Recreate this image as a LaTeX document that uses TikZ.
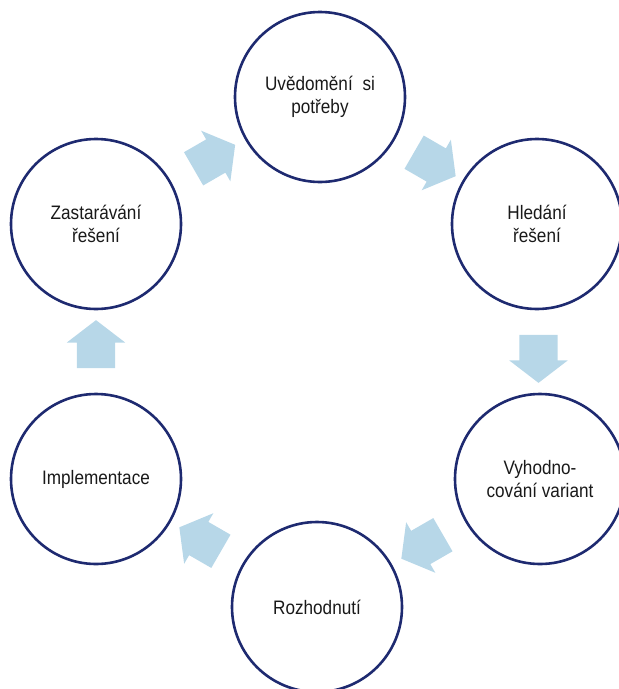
\documentclass[tikz,border=0pt]{standalone}
\usepackage{fontspec}
\setmainfont[FakeStretch=0.88]{Liberation Sans}
\usetikzlibrary{shapes.arrows,calc}

\begin{document}
\begin{tikzpicture}[x=1pt,y=-1pt]
    % ===================================
    % 設定
    % ===================================
    \def\prumer{170}  % 円の直径
    \definecolor{kruhmodra}{RGB}{30,42,112}
    \definecolor{sipkamodra}{RGB}{183,215,232}

    \tikzset{
        kruh/.style={circle, draw=kruhmodra, line width=2.6pt, minimum size=\prumer,
            inner sep=0pt, align=center, text=black!90, font=\fontsize{19.5}{23}\selectfont},
        sipka/.style={single arrow, fill=sipkamodra, draw=none, inner sep=0pt,
            text height=19pt, text depth=19pt, text width=0pt,
            minimum height=48, single arrow head extend=10,
            single arrow tip angle=105}
    }
    % ===================================

    \useasboundingbox (0,0) rectangle (619,689);
    \clip (0,0) rectangle (619,689);

    % 1. 円の配置 (時計回り)
    \node[kruh] (n1) at (320,97)  {Uvědomění\hspace{0.5em}si\\potřeby};
    \node[kruh] (n2) at (537,224) {Hledání\\řešení};
    \node[kruh] (n3) at (540,479) {Vyhodno-\\cování variant};
    \node[kruh] (n4) at (317,607) {Rozhodnutí};
    \node[kruh] (n5) at (96,479)  {Implementace};
    \node[kruh] (n6) at (96,224)  {Zastarávání\\řešení};

    % 2. 隣り合う円の間に矢印
    \foreach \a/\b/\uhel in {n1/n2/-30, n2/n3/-90, n3/n4/-150, n4/n5/150, n5/n6/90, n6/n1/30} {
        \node[sipka, rotate=\uhel] (s-\a) at ($(\a)!0.5!(\b)$) {};
    }

\end{tikzpicture}
\end{document}
